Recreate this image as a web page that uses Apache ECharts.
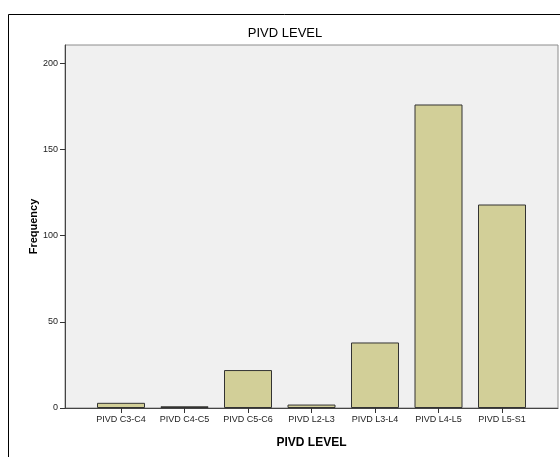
<!DOCTYPE html>
<html>
<head>
<meta charset="utf-8">
<script src="https://cdn.jsdelivr.net/npm/echarts@6/dist/echarts.min.js"></script>
<style>
  html, body { margin: 0; padding: 0; background: #fff; }
  #chart { width: 560px; height: 457px; }
</style>
</head>
<body>
<div id="chart"></div>
<script>
// PIVD level frequencies
var levels = ['PIVD C3-C4', 'PIVD C4-C5', 'PIVD C5-C6', 'PIVD L2-L3', 'PIVD L3-L4', 'PIVD L4-L5', 'PIVD L5-S1'];
var counts = [3, 1, 22, 2, 38, 176, 118];
var yTicks = [0, 50, 100, 150, 200];

var chart = echarts.init(document.getElementById('chart'));

var font = 'Arial, "Liberation Sans", sans-serif';

var option = {
  animation: false,
  backgroundColor: '#fff',
  graphic: [
    {
      // outer frame
      type: 'rect',
      shape: { x: 8.5, y: 14.5, width: 600, height: 500 },
      style: { fill: 'none', stroke: '#000', lineWidth: 1 },
      silent: true
    },
    {
      type: 'text',
      x: 285, y: 27,
      style: {
        text: 'PIVD LEVEL', fontFamily: font, fontSize: 13,
        fill: '#000', textAlign: 'center', textVerticalAlign: 'top'
      }
    }
  ],
  grid: [
    // gray plot background
    { left: 65, right: 2, top: 45, bottom: 49, show: true,
      backgroundColor: '#f0f0f0', borderColor: '#8c8c8c', borderWidth: 1 },
    // bars sit inside with some padding on both sides
    { left: 89.25, right: 26.25, top: 45, bottom: 49 }
  ],
  xAxis: [
    {
      gridIndex: 0, type: 'value', min: 0, max: 1,
      axisLine: { show: true, lineStyle: { color: '#444', width: 1 } },
      axisTick: { show: false }, axisLabel: { show: false }, splitLine: { show: false }
    },
    {
      gridIndex: 1, type: 'category', data: levels,
      name: 'PIVD LEVEL', nameLocation: 'middle', nameGap: 29,
      nameTextStyle: { fontFamily: font, fontSize: 12, fontWeight: 'bold', color: '#000' },
      axisLine: { show: false },
      axisTick: { show: true, inside: false, alignWithLabel: true, length: 5, lineStyle: { color: '#333' } },
      axisLabel: { fontFamily: font, fontSize: 9, color: '#222', margin: 7, interval: 0 },
      splitLine: { show: false }
    }
  ],
  yAxis: [
    {
      gridIndex: 0, type: 'value', min: 0, max: 210.5,
      name: 'Frequency', nameLocation: 'middle', nameGap: 26, nameMoveOverlap: false,
      nameTextStyle: { fontFamily: font, fontSize: 11, fontWeight: 'bold', color: '#000' },
      axisLine: { show: true, lineStyle: { color: '#444' } },
      axisTick: { show: true, inside: false, length: 5, lineStyle: { color: '#333' }, customValues: yTicks },
      axisLabel: { fontFamily: font, fontSize: 9, color: '#222', margin: 7, customValues: yTicks },
      splitLine: { show: false }
    },
    {
      gridIndex: 1, type: 'value', min: 0, max: 210.5, show: false
    }
  ],
  series: [
    {
      type: 'bar',
      xAxisIndex: 1, yAxisIndex: 1,
      data: counts,
      barWidth: 48,
      itemStyle: { color: '#d2cf98', borderColor: '#333', borderWidth: 1 },
      emphasis: { disabled: true }
    }
  ]
};

chart.setOption(option);
</script>
</body>
</html>
